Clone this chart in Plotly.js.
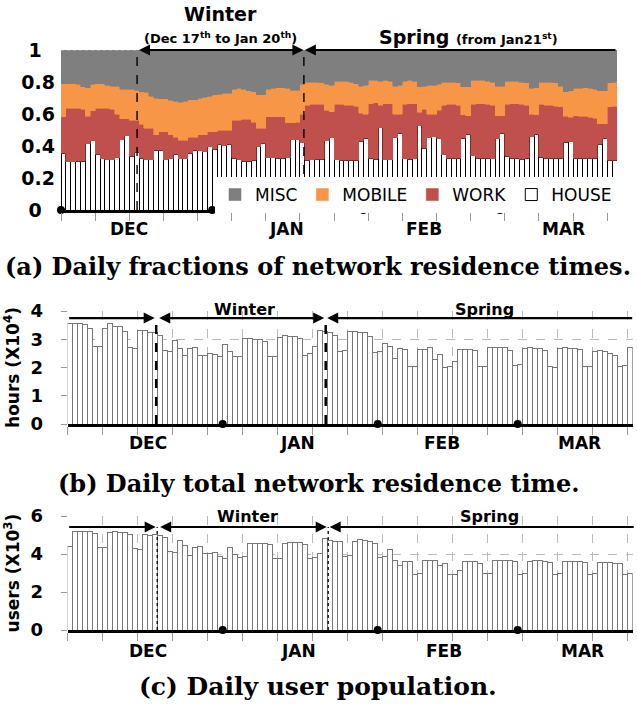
<!DOCTYPE html>
<html><head><meta charset="utf-8">
<script src="https://cdn.plot.ly/plotly-3.0.1.min.js"></script>
<style>html,body{margin:0;padding:0;background:#fff}#chart{width:637px;height:704px}</style>
</head><body><div id="chart"></div>
<script>
// ---------- data ----------
const categories = ['HOUSE', 'WORK', 'MOBILE', 'MISC'];
const monthNames = ['DEC', 'JAN', 'FEB', 'MAR'];
const monthStartDay = [0, 31, 62, 90];
const yTickTextA = ['0\u00a0\u00a0', '0.2', '0.4', '0.6', '0.8', '1\u00a0\u00a0'];
const yTickValsA = [0, 0.2, 0.4, 0.6, 0.8, 1];
const yTickValsB = [0, 1, 2, 3, 4];
const yTickValsC = [0, 2, 4, 6];

// (a) fraction of HOUSE, and cumulative tops of WORK and MOBILE (MISC fills to 1)
const houseFrac = [0.354,0.302,0.302,0.306,0.306,0.415,0.433,0.35,0.32,0.315,
 0.315,0.327,0.44,0.465,0.337,0.36,0.323,0.315,0.313,0.375,
 0.375,0.313,0.319,0.348,0.319,0.319,0.356,0.375,0.369,0.365,
 0.394,0.381,0.41,0.402,0.41,0.323,0.313,0.306,0.306,0.31,
 0.396,0.417,0.327,0.327,0.323,0.325,0.327,0.44,0.44,0.42,
 0.31,0.315,0.318,0.317,0.433,0.452,0.313,0.31,0.31,0.31,
 0.312,0.43,0.448,0.325,0.318,0.515,0.315,0.315,0.452,0.48,
 0.32,0.318,0.32,0.527,0.385,0.452,0.458,0.444,0.344,0.323,
 0.323,0.323,0.448,0.473,0.34,0.325,0.323,0.323,0.32,0.444,
 0.48,0.335,0.325,0.323,0.318,0.325,0.458,0.473,0.33,0.325,
 0.323,0.323,0.325,0.423,0.427,0.325,0.323,0.323,0.323,0.325,
 0.41,0.448,0.3125,0.3125];
const workTop = [0.583,0.635,0.635,0.635,0.63,0.585,0.62,0.635,0.635,0.635,
 0.63,0.6,0.57,0.57,0.56,0.56,0.535,0.51,0.51,0.47,
 0.49,0.49,0.469,0.454,0.4375,0.4375,0.454,0.454,0.469,0.469,
 0.49,0.49,0.5,0.5,0.5,0.56,0.56,0.566,0.566,0.55,
 0.51,0.51,0.583,0.583,0.583,0.583,0.546,0.546,0.55,0.6,
 0.656,0.66,0.66,0.66,0.625,0.615,0.66,0.66,0.655,0.655,
 0.65,0.605,0.6,0.665,0.67,0.655,0.665,0.665,0.6,0.6,
 0.66,0.665,0.665,0.61,0.63,0.6,0.6,0.625,0.655,0.66,
 0.66,0.655,0.595,0.59,0.66,0.665,0.665,0.66,0.655,0.59,
 0.59,0.66,0.665,0.665,0.66,0.655,0.6,0.595,0.66,0.655,
 0.655,0.65,0.645,0.585,0.58,0.59,0.585,0.585,0.58,0.575,
 0.54,0.54,0.645,0.65];
const mobileTop = [0.79,0.79,0.79,0.785,0.77,0.765,0.785,0.79,0.79,0.78,
 0.775,0.775,0.755,0.755,0.755,0.75,0.74,0.735,0.71,0.7,
 0.695,0.695,0.685,0.68,0.675,0.68,0.69,0.69,0.7,0.705,
 0.71,0.72,0.725,0.73,0.73,0.755,0.76,0.755,0.745,0.74,
 0.72,0.72,0.755,0.76,0.765,0.765,0.76,0.75,0.75,0.785,
 0.8,0.8,0.8,0.795,0.785,0.78,0.805,0.805,0.805,0.8,
 0.79,0.775,0.78,0.81,0.81,0.805,0.81,0.805,0.775,0.78,
 0.805,0.81,0.805,0.77,0.775,0.78,0.78,0.785,0.8,0.8,
 0.8,0.795,0.77,0.77,0.81,0.81,0.81,0.805,0.8,0.775,
 0.775,0.805,0.805,0.805,0.8,0.795,0.76,0.765,0.8,0.8,
 0.8,0.795,0.775,0.74,0.745,0.76,0.76,0.765,0.76,0.755,
 0.745,0.745,0.795,0.8];

// (b) total residence time, hours x10^4
const hoursX1e4 = [3.56,3.56,3.56,3.54,3.38,2.74,2.76,3.38,3.55,3.45,
 3.45,3.28,2.72,2.67,3.3,3.3,3.25,3.25,3.14,2.6,
 2.56,2.96,2.67,2.42,2.67,2.71,2.42,2.42,2.5,2.45,
 2.4,2.8,2.58,2.38,2.38,3.02,3.02,3.0,3.0,2.92,
 2.38,2.38,3.05,3.14,3.1,3.1,3.02,2.42,2.48,2.75,
 3.3,3.27,3.23,3.15,2.56,2.6,3.27,3.27,3.24,3.23,
 3.09,2.53,2.56,2.86,2.74,2.32,2.68,2.62,2.03,2.05,
 2.65,2.65,2.7,2.3,2.45,2.0,2.03,2.2,2.65,2.65,
 2.65,2.6,2.03,2.05,2.7,2.72,2.72,2.7,2.6,2.06,
 2.1,2.68,2.7,2.68,2.66,2.6,2.03,2.0,2.68,2.7,
 2.68,2.66,2.62,2.03,2.03,2.55,2.6,2.58,2.5,2.44,
 2.03,2.08,2.7];

// (c) user population x10^3
const usersX1e3 = [4.39,5.16,5.19,5.19,5.16,5.07,4.33,4.33,5.12,5.16,
 5.12,5.12,5.05,4.3,4.25,5.04,4.97,5.04,4.98,4.88,
 4.12,4.09,4.7,4.44,3.93,4.33,4.37,4.03,4.03,4.07,
 3.86,3.75,4.33,3.95,3.82,3.86,4.56,4.56,4.54,4.54,
 4.51,3.75,3.75,4.54,4.61,4.6,4.61,4.51,3.77,3.82,
 4.03,4.79,4.7,4.68,4.66,3.86,3.9,4.68,4.74,4.7,
 4.68,4.56,3.82,3.86,4.25,3.65,3.4,3.6,3.6,2.9,
 2.98,3.68,3.68,3.68,3.4,3.5,2.9,2.9,3.12,3.6,
 3.6,3.6,3.5,2.95,2.98,3.65,3.68,3.68,3.66,3.62,
 2.93,3.0,3.63,3.66,3.66,3.63,3.55,2.92,2.95,3.6,
 3.63,3.62,3.6,3.55,2.93,2.95,3.55,3.56,3.55,3.52,
 3.48,2.9,2.95];

// ---------- derived ----------
const NA = houseFrac.length, NB = hoursX1e4.length;
const dayA = houseFrac.map((_, i) => i);
const dayB = hoursX1e4.map((_, i) => i);
const workFrac = workTop.map((t, i) => +(t - houseFrac[i]).toFixed(4));
const mobileFrac = mobileTop.map((t, i) => +(t - workTop[i]).toFixed(4));
const miscFrac = mobileTop.map(t => +(1 - t).toFixed(4));
const monthEdge = monthStartDay.map(d => d - 0.5);
function weekTicks(n) { const t = []; for (let v = -0.5; v <= n - 0.5 + 1e-9; v += 7) t.push(v); return t; }

// ---------- layout helpers ----------
const W = 637, H = 704;
const px = x => x / W, py = y => 1 - y / H;
const FONT = 'DejaVu Sans';
const bold = (size) => ({family: FONT, size: size, color: '#000', weight: 'bold'});
const colors = {HOUSE: '#ffffff', WORK: '#C0504D', MOBILE: '#F79646', MISC: '#7F7F7F'};

// boundary positions (in day units) for each panel
const winA = 15.1, sprA = 49.3;
const winB = 17.2, sprB = 51.1;
const winC = 17.4, sprC = 51.6;
const monthLabelA = [13.4, 45.8, 73.9, 102.5];
const monthLabelB = [15.6, 45.4, 74.4, 101.8];
const monthLabelC = [15.6, 45.6, 74.8, 102.4];

const traces = [
  {type: 'bar', name: categories[0], x: dayA, y: houseFrac, xaxis: 'x', yaxis: 'y',
   marker: {color: colors.HOUSE, line: {color: '#000', width: 1}}},
  {type: 'bar', name: categories[1], x: dayA, y: workFrac, xaxis: 'x', yaxis: 'y',
   marker: {color: colors.WORK, line: {color: colors.WORK, width: 0.6}}},
  {type: 'bar', name: categories[2], x: dayA, y: mobileFrac, xaxis: 'x', yaxis: 'y',
   marker: {color: colors.MOBILE, line: {color: colors.MOBILE, width: 0.6}}},
  {type: 'bar', name: categories[3], x: dayA, y: miscFrac, xaxis: 'x', yaxis: 'y',
   marker: {color: colors.MISC, line: {color: colors.MISC, width: 0.6}}},
  {type: 'bar', x: dayB, y: hoursX1e4, xaxis: 'x2', yaxis: 'y2', showlegend: false,
   marker: {color: '#fff', line: {color: '#777', width: 1}}},
  {type: 'bar', x: dayB, y: usersX1e3, xaxis: 'x3', yaxis: 'y3', showlegend: false,
   marker: {color: '#fff', line: {color: '#777', width: 1}}},
  {type: 'scatter', mode: 'markers', x: monthEdge, y: monthEdge.map(() => 0), xaxis: 'x', yaxis: 'y',
   showlegend: false, cliponaxis: false, marker: {color: '#000', size: 8}},
  {type: 'scatter', mode: 'markers', x: monthEdge.slice(1), y: [0, 0, 0], xaxis: 'x2', yaxis: 'y2',
   showlegend: false, cliponaxis: false, marker: {color: '#000', size: 8}},
  {type: 'scatter', mode: 'markers', x: monthEdge.slice(1), y: [0, 0, 0], xaxis: 'x3', yaxis: 'y3',
   showlegend: false, cliponaxis: false, marker: {color: '#000', size: 8}}
];

const xBase = {showline: true, linewidth: 2.5, linecolor: '#000', ticks: 'outside', ticklen: 8,
  tickcolor: '#999', tickwidth: 1, showticklabels: false, zeroline: false, fixedrange: true};

const layout = {
  width: W, height: H, margin: {l: 0, r: 0, t: 0, b: 0},
  paper_bgcolor: '#fff', plot_bgcolor: '#fff',
  barmode: 'stack', bargap: 0,
  font: {family: FONT, color: '#000'},
  showlegend: true,
  legend: {orientation: 'h', traceorder: 'reversed', x: px(617), xanchor: 'right', y: py(177), yanchor: 'top',
    bgcolor: '#fff', borderwidth: 0, font: {family: FONT, size: 17, color: '#000'}, itemwidth: 30},
  xaxis: Object.assign({}, xBase, {domain: [px(61), px(617)], range: [-0.5, NA - 0.5], anchor: 'y',
    tickvals: weekTicks(NA), showgrid: false}),
  yaxis: {domain: [py(210), py(50)], range: [0, 1], anchor: 'x', tickvals: yTickValsA, ticktext: yTickTextA,
    tickfont: bold(19), showgrid: false, zeroline: false, showline: false, ticks: '', ticklabelstandoff: 5, fixedrange: true},
  xaxis2: Object.assign({}, xBase, {domain: [px(67.7), px(632.7)], range: [-0.5, NB - 0.5], anchor: 'y2',
    tickvals: weekTicks(NB), showgrid: true, gridcolor: '#bbb', griddash: 'dash', gridwidth: 1}),
  yaxis2: {domain: [py(424), py(311)], range: [0, 4], anchor: 'x2', tickvals: yTickValsB,
    tickfont: bold(18), showgrid: true, gridcolor: '#bbb', griddash: 'dash', zeroline: false, showline: false,
    ticks: 'outside', ticklen: 6, tickcolor: '#999', ticklabelstandoff: 14, fixedrange: true,
    title: {text: 'hours (X10<sup>4</sup>)', font: bold(17), standoff: 6}},
  xaxis3: Object.assign({}, xBase, {domain: [px(67.7), px(632.7)], range: [-0.5, NB - 0.5], anchor: 'y3',
    tickvals: weekTicks(NB), showgrid: true, gridcolor: '#bbb', griddash: 'dash', gridwidth: 1}),
  yaxis3: {domain: [py(630), py(516)], range: [0, 6], anchor: 'x3', tickvals: yTickValsC,
    tickfont: bold(18), showgrid: true, gridcolor: '#bbb', griddash: 'dash', zeroline: false, showline: false,
    ticks: 'outside', ticklen: 6, tickcolor: '#999', ticklabelstandoff: 14, fixedrange: true,
    title: {text: 'users (X10<sup>3</sup>)', font: bold(17), standoff: 6}},
  shapes: [],
  annotations: []
};

// vertical dashed season boundaries
function vline(xr, yr, x, y1, w, dash) {
  layout.shapes.push({type: 'line', xref: xr, yref: yr, x0: x, x1: x, y0: 0, y1: y1,
    line: {color: '#000', width: w, dash: dash}});
}
vline('x', 'y', winA, 1, 1.4, 'dash');
vline('x', 'y', sprA, 1, 1.4, 'dash');
vline('x2', 'y2', winB, 3.75, 2.5, 'dash');
vline('x2', 'y2', sprB, 3.75, 2.5, 'dash');
vline('x3', 'y3', winC, 5.42, 1.3, 'dot');
vline('x3', 'y3', sprC, 5.42, 1.3, 'dot');
// light dotted top edge before winter in (a)
layout.shapes.push({type: 'line', xref: 'x', yref: 'y', x0: -0.5, x1: winA, y0: 1, y1: 1,
  line: {color: '#bbb', width: 1, dash: 'dot'}});

// arrows
function arrow(xr, yr, head, tail, y, side, w) {
  layout.annotations.push({xref: xr, yref: yr, axref: xr, ayref: yr, x: head, y: y, ax: tail, ay: y,
    text: '', showarrow: true, arrowhead: 2, arrowsize: 1, arrowwidth: w, arrowcolor: '#000',
    arrowside: side, standoff: 0, startstandoff: 0});
}
arrow('x', 'y', sprA - 0.1, winA + 0.1, 1, 'end+start', 2.2);
arrow('x', 'y', sprA + 0.2, NA - 0.5, 1, 'end', 2.2);
arrow('x2', 'y2', winB - 0.3, -0.5, 3.75, 'end', 2.2);
arrow('x2', 'y2', sprB - 0.3, winB + 0.3, 3.75, 'end+start', 2.2);
arrow('x2', 'y2', sprB + 0.3, NB - 0.3, 3.75, 'end', 2.2);
arrow('x3', 'y3', winC - 0.3, -0.5, 5.42, 'end', 2.2);
arrow('x3', 'y3', sprC - 0.3, winC + 0.3, 5.42, 'end+start', 2.2);
arrow('x3', 'y3', sprC + 0.3, NB, 5.42, 'end', 2.2);

function txt(text, x, y, font, xref, yref) {
  layout.annotations.push({text: text, x: x, y: y, xref: xref || 'paper', yref: yref || 'paper',
    showarrow: false, xanchor: 'center', yanchor: 'middle', font: font});
}
// season labels
txt('Winter', px(220), py(14), bold(19));
txt('(Dec 17<sup>th</sup> to Jan 20<sup>th</sup>)', px(220), py(38), bold(13));
txt('Spring <span style="font-size:13px">(from Jan21<sup>st</sup>)</span>', px(468), py(37), bold(19));
txt('Winter', px(244), py(309), bold(16));
txt('Spring', px(484), py(309), bold(16));
txt('Winter', px(247), py(516), bold(16));
txt('Spring', px(489), py(516), bold(16));
// month labels
monthNames.forEach((m, i) => {
  txt(m, monthLabelA[i], py(229), bold(17), 'x', 'paper');
  txt(m, monthLabelB[i], py(443), bold(17), 'x2', 'paper');
  txt(m, monthLabelC[i], py(651), bold(17), 'x3', 'paper');
});
// captions
const capFont = {family: 'DejaVu Serif', size: 24, color: '#000', weight: 'bold'};
txt('(a) Daily fractions of network residence times.', px(318), py(266), capFont);
txt('(b) Daily total network residence time.', px(319), py(483), capFont);
txt('(c) Daily user population.', px(318), py(686), Object.assign({}, capFont, {size: 25}));

Plotly.newPlot('chart', traces, layout, {staticPlot: true, displayModeBar: false});
</script>
</body></html>
